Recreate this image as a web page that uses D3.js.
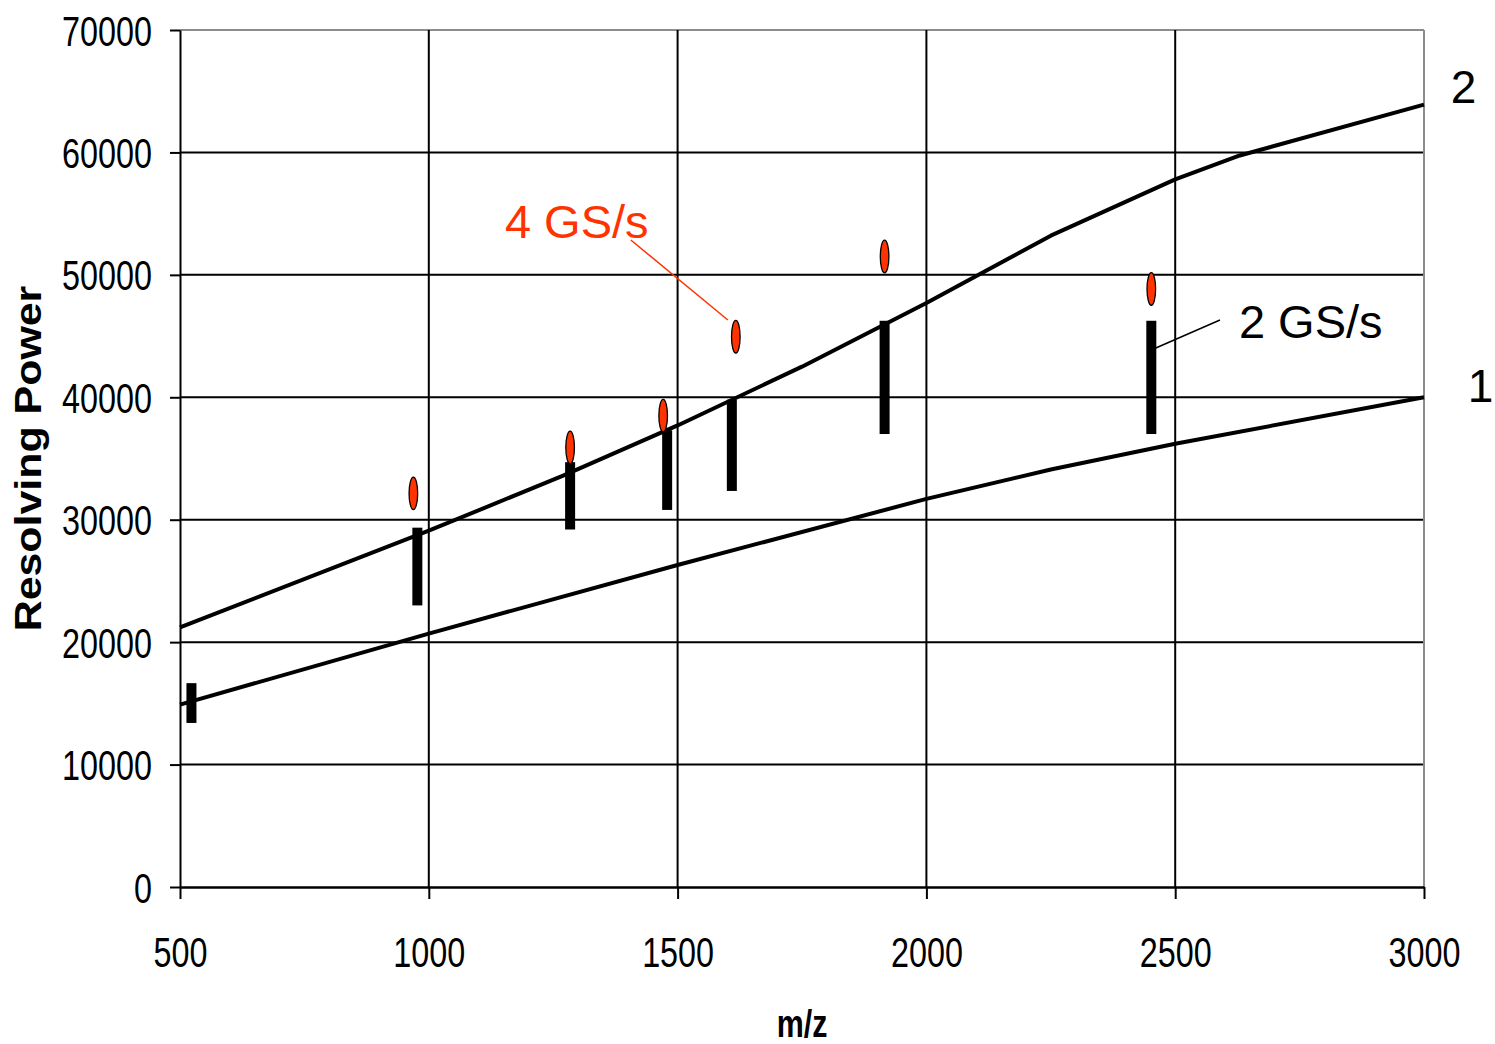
<!DOCTYPE html>
<html>
<head>
<meta charset="utf-8">
<script src="https://cdn.jsdelivr.net/npm/d3@7/dist/d3.min.js"></script>
<style>
  html, body { margin: 0; padding: 0; background: #fff; }
  svg { display: block; }
  text { font-family: "Liberation Sans", Arial, Helvetica, sans-serif; }
</style>
</head>
<body>
<svg id="chart" width="1495" height="1044"></svg>
<script>
// Axis ticks
const mzTicks = [500, 1000, 1500, 2000, 2500, 3000];
const rpTicks = [0, 10000, 20000, 30000, 40000, 50000, 60000, 70000];

// Theoretical resolving power, curve "1"
const curve1Mz = [500, 1000, 1500, 2000, 2250, 2500, 3000];
const curve1Rp = [14900, 20700, 26300, 31700, 34100, 36200, 40000];

// Theoretical resolving power, curve "2"
const curve2Mz = [500, 1000, 1270, 1500, 1750, 2000, 2250, 2500, 2630, 3000];
const curve2Rp = [21200, 29100, 33600, 37700, 42500, 47700, 53200, 57800, 59750, 63900];

// Measured ranges at 2 GS/s (vertical bars: low..high)
const gs2Mz = [523, 977, 1284, 1479, 1609, 1916, 2452];
const gs2Low = [13400, 23000, 29200, 30800, 32350, 37000, 37000];
const gs2High = [16650, 29350, 34700, 37300, 39800, 46250, 46250];

// Measured values at 4 GS/s
const gs4Mz = [969, 1284, 1471, 1617, 1916, 2452];
const gs4Rp = [32150, 35900, 38500, 44950, 51500, 48850];

// Annotation anchors, in data units
const label4 = { text: "4 GS/s", mz: 1153, rp: 53010, from: [1406, 52850], to: [1601, 46310] };
const label2 = { text: "2 GS/s", mz: 2628, rp: 44840, from: [2590, 46310], to: [2461, 44025] };
const curveLabels = [
  { text: "2", mz: 3054, rp: 64040 },
  { text: "1", mz: 3088, rp: 39610 }
];

const RED = "#ff3300";
const margin = { left: 180, right: 71, top: 30, bottom: 157 };
const W = 1495, H = 1044;

const svg = d3.select("#chart");
svg.append("rect").attr("width", W).attr("height", H).attr("fill", "#fff");

const x = d3.scaleLinear().domain([500, 3000]).range([margin.left, W - margin.right]);
const y = d3.scaleLinear().domain([0, 70000]).range([H - margin.bottom, margin.top]);

// Gridlines
const grid = svg.append("g");
grid.selectAll("line.h").data(rpTicks.filter(v => v > 0)).join("line")
  .attr("x1", x(500)).attr("x2", x(3000))
  .attr("y1", d => y(d)).attr("y2", d => y(d))
  .attr("stroke", d => d === 70000 ? "#8c8c8c" : "#000")
  .attr("stroke-width", 2);
grid.selectAll("line.v").data(mzTicks.filter(v => v > 500)).join("line")
  .attr("y1", y(0)).attr("y2", y(70000))
  .attr("x1", d => x(d)).attr("x2", d => x(d))
  .attr("stroke", d => d === 3000 ? "#8c8c8c" : "#000")
  .attr("stroke-width", 2);

// Axes
const squeeze = 0.77;
const yAxis = svg.append("g")
  .attr("transform", `translate(${x(500)},0)`)
  .call(d3.axisLeft(y).tickValues(rpTicks).tickFormat(d3.format("d")).tickSize(10).tickSizeOuter(0));
yAxis.select(".domain").attr("stroke", "#000").attr("stroke-width", 2);
yAxis.selectAll(".tick line").attr("stroke", "#000").attr("stroke-width", 2);
yAxis.selectAll(".tick text")
  .attr("font-size", 42).attr("fill", "#000")
  .attr("x", -28 / squeeze).attr("dy", null).attr("y", 15)
  .attr("transform", `scale(${squeeze},1)`);

const xAxis = svg.append("g")
  .attr("transform", `translate(0,${y(0)})`)
  .call(d3.axisBottom(x).tickValues(mzTicks).tickFormat(d3.format("d")).tickSize(12).tickSizeOuter(0));
xAxis.select(".domain").attr("stroke", "#000").attr("stroke-width", 2.5);
xAxis.selectAll(".tick line").attr("stroke", "#000").attr("stroke-width", 2);
xAxis.selectAll(".tick text")
  .attr("font-size", 42).attr("fill", "#000")
  .attr("dy", null).attr("y", 80)
  .attr("transform", `scale(${squeeze},1)`);

// Axis titles
svg.append("text")
  .attr("transform", `translate(${(x(500) + x(3000)) / 2},1037) scale(0.8,1)`)
  .attr("text-anchor", "middle").attr("font-size", 38).attr("font-weight", "bold")
  .text("m/z");
svg.append("text")
  .attr("transform", `translate(41,${(y(0) + y(70000)) / 2}) rotate(-90) scale(1.16,1)`)
  .attr("text-anchor", "middle").attr("font-size", 37).attr("font-weight", "bold")
  .text("Resolving Power");

// Curves
const line = d3.line().x(d => x(d[0])).y(d => y(d[1]));
[[curve1Mz, curve1Rp], [curve2Mz, curve2Rp]].forEach(([mz, rp]) => {
  svg.append("path")
    .datum(mz.map((m, i) => [m, rp[i]]))
    .attr("d", line)
    .attr("fill", "none").attr("stroke", "#000")
    .attr("stroke-width", 4).attr("stroke-linejoin", "round");
});

// 2 GS/s ranges
svg.append("g").selectAll("rect").data(gs2Mz).join("rect")
  .attr("x", d => x(d) - 5).attr("width", 10)
  .attr("y", (d, i) => y(gs2High[i]))
  .attr("height", (d, i) => y(gs2Low[i]) - y(gs2High[i]))
  .attr("fill", "#000");

// 4 GS/s points
svg.append("g").selectAll("ellipse").data(gs4Mz).join("ellipse")
  .attr("cx", d => x(d)).attr("cy", (d, i) => y(gs4Rp[i]))
  .attr("rx", 4.3).attr("ry", 16.3)
  .attr("fill", RED).attr("stroke", "#000").attr("stroke-width", 1.3);

// Annotations
function annotate(lbl, color) {
  svg.append("line")
    .attr("x1", x(lbl.from[0])).attr("y1", y(lbl.from[1]))
    .attr("x2", x(lbl.to[0])).attr("y2", y(lbl.to[1]))
    .attr("stroke", color).attr("stroke-width", 1.5);
  svg.append("text")
    .attr("x", x(lbl.mz)).attr("y", y(lbl.rp))
    .attr("font-size", 47).attr("fill", color)
    .text(lbl.text);
}
annotate(label4, RED);
annotate(label2, "#000");

svg.append("g").selectAll("text").data(curveLabels).join("text")
  .attr("x", d => x(d.mz)).attr("y", d => y(d.rp))
  .attr("font-size", 46).attr("fill", "#000")
  .text(d => d.text);
</script>
</body>
</html>
